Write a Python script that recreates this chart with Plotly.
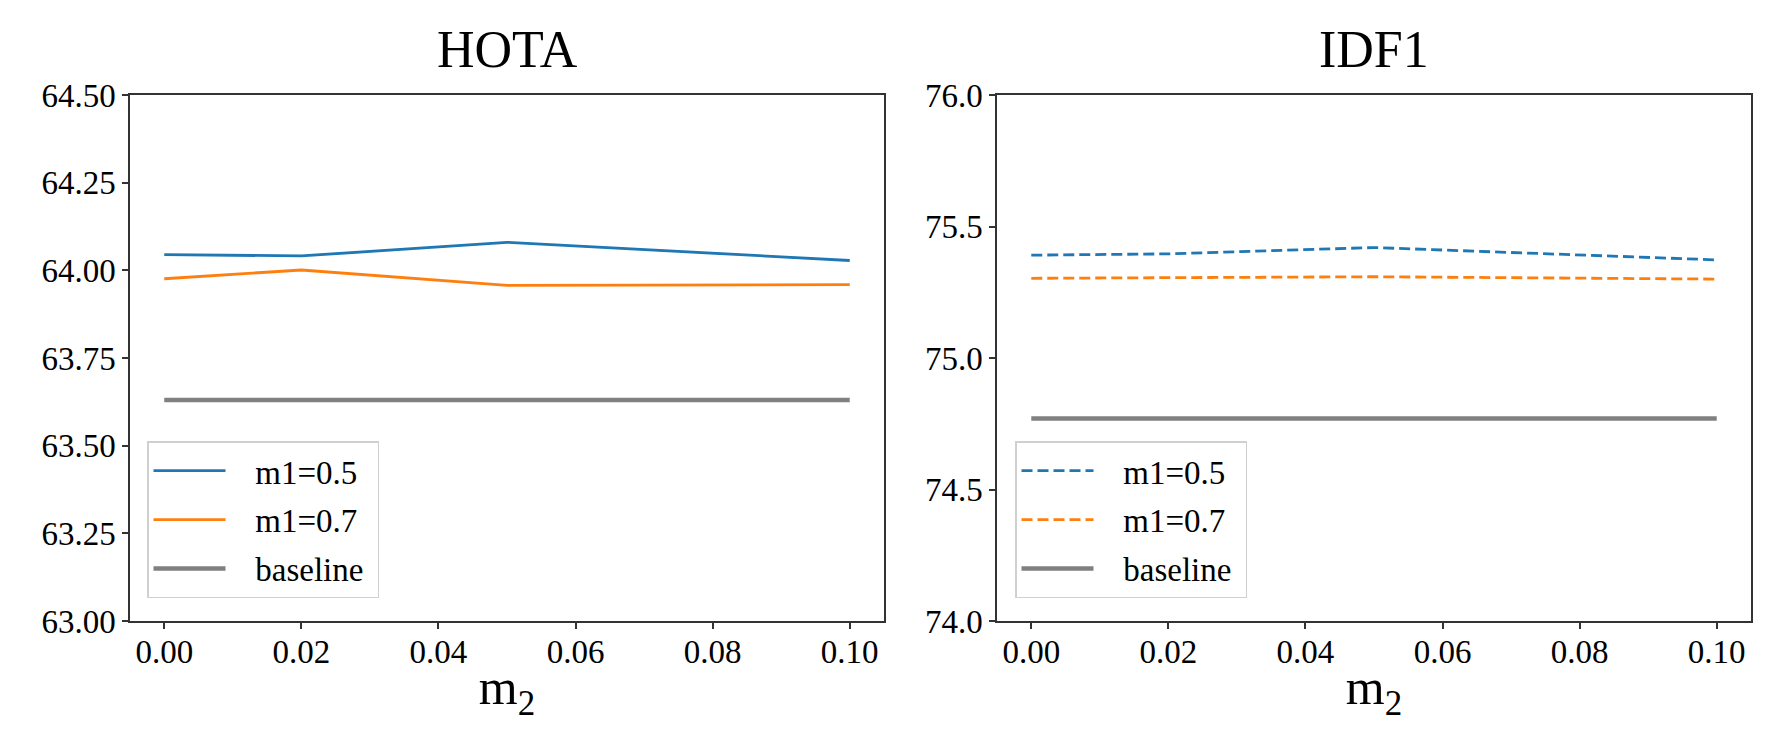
import plotly.graph_objects as go
from plotly.subplots import make_subplots

# m2 values on the x axis
m2 = [0.0, 0.02, 0.05, 0.10]

# HOTA panel
hota_m05 = [64.045, 64.041, 64.080, 64.028]
hota_m07 = [63.976, 64.001, 63.957, 63.959]
hota_base = [63.63, 63.63, 63.63, 63.63]

# IDF1 panel
idf1_m05 = [75.391, 75.396, 75.420, 75.373]
idf1_m07 = [75.303, 75.306, 75.309, 75.300]
idf1_base = [74.77, 74.77, 74.77, 74.77]

titles = ["HOTA", "IDF1"]
names = ["m1=0.5", "m1=0.7", "baseline"]
xticks = [0.0, 0.02, 0.04, 0.06, 0.08, 0.10]

blue = "#1f77b4"
orange = "#ff7f0e"
grey = "#808080"
font = "Liberation Serif"
nb = "\u00a0"

W, H = 1789, 750
# plot area in pixels (left, right, top, bottom)
L, R, T, B = 130, 1751, 95, 620.7
pw, ph = R - L, B - T


def fx(px):
    return (px - L) / pw


def fy(py):
    return (B - py) / ph


fig = make_subplots(rows=1, cols=2)

# left panel, solid lines
for ys, name, col, w, grp in [(hota_m05, names[0], blue, 2.8, "a1"),
                              (hota_m07, names[1], orange, 2.8, "a2"),
                              (hota_base, names[2], grey, 4.5, "a3")]:
    fig.add_trace(go.Scatter(x=m2, y=ys, name=nb * 3 + name + nb, mode="lines",
                             line=dict(color=col, width=w),
                             legend="legend", legendgroup=grp), row=1, col=1)

# right panel, dashed lines for the m1 series
for ys, name, col, w, dash, grp in [(idf1_m05, names[0], blue, 2.8, "11px,5px", "b1"),
                                    (idf1_m07, names[1], orange, 2.8, "11px,5px", "b2"),
                                    (idf1_base, names[2], grey, 4.5, "solid", "b3")]:
    fig.add_trace(go.Scatter(x=m2, y=ys, name=nb * 3 + name + nb, mode="lines",
                             line=dict(color=col, width=w, dash=dash),
                             legend="legend2", legendgroup=grp), row=1, col=2)

tickfont = dict(family=font, size=33, color="black")
axis_style = dict(showline=True, mirror=True, linecolor="#333333", linewidth=1.5,
                  ticks="outside", ticklen=6, tickwidth=1.5, tickcolor="#333333",
                  showgrid=False, zeroline=False, automargin=False)

for c in (1, 2):
    fig.update_xaxes(axis_style, range=[-0.005, 0.105], tickvals=xticks,
                     tickformat=".2f", tickfont=tickfont, ticklabelstandoff=-5,
                     row=1, col=c,
                     title=dict(text="m<sub>2</sub>", standoff=0,
                                font=dict(family=font, size=50, color="black")))

fig.update_yaxes(axis_style, range=[63, 64.5], dtick=0.25, tick0=63,
                 tickformat=".2f", tickfont=tickfont, row=1, col=1)
fig.update_yaxes(axis_style, range=[74, 76], dtick=0.5, tick0=74,
                 tickformat=".1f", tickfont=tickfont, row=1, col=2)

fig.update_layout(
    xaxis=dict(domain=[0, fx(884)]),
    xaxis2=dict(domain=[fx(997), 1]),
    yaxis=dict(domain=[0, 1]),
    yaxis2=dict(domain=[0, 1]),
)

for i, t in enumerate(titles):
    dom = fig.layout["xaxis" + ("" if i == 0 else "2")].domain
    fig.add_annotation(text=t, xref="paper", yref="paper",
                       x=(dom[0] + dom[1]) / 2, y=fy(50),
                       xanchor="center", yanchor="middle", showarrow=False,
                       font=dict(family=font, size=52, color="black"))

legend_style = dict(font=dict(family=font, size=33, color="black"),
                    bgcolor="rgba(255,255,255,0.8)", bordercolor="#d0d0d0",
                    borderwidth=1.5, xanchor="left", yanchor="top",
                    itemwidth=72, tracegroupgap=3)

fig.update_layout(
    width=W, height=H,
    margin=dict(l=L, r=W - R, t=T, b=H - B, pad=0),
    paper_bgcolor="white", plot_bgcolor="white",
    font=dict(family=font, color="black"),
    legend=dict(legend_style, x=fx(147), y=fy(441)),
    legend2=dict(legend_style, x=fx(1015), y=fy(441)),
    showlegend=True,
)

fig.write_html("out.html", config={"displayModeBar": False},
               post_script="document.body.style.margin='0';")
